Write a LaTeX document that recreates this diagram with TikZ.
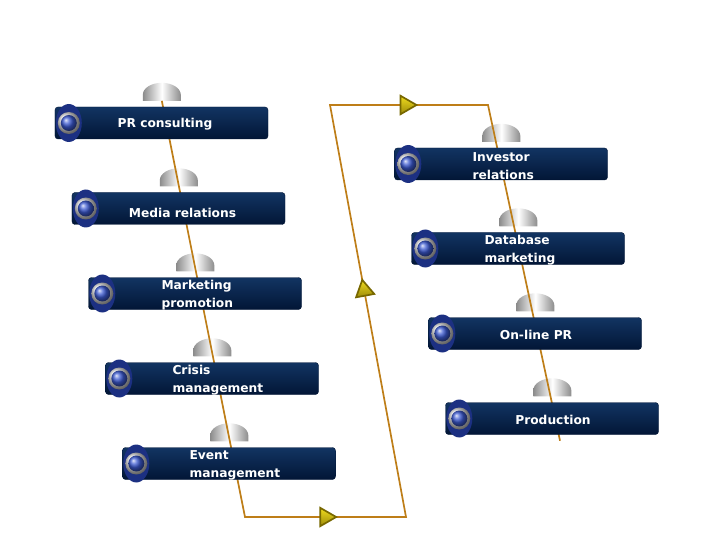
\documentclass[tikz,border=0pt]{standalone}
\usepackage{fontspec}
\setmainfont{DejaVu Sans}
\usetikzlibrary{shapes.geometric,backgrounds}
\definecolor{boxtop}{RGB}{18,52,98}
\definecolor{boxbot}{RGB}{2,22,54}
\definecolor{wirecol}{RGB}{190,126,24}
\definecolor{tipyel}{RGB}{240,220,30}
\definecolor{tipolv}{RGB}{120,104,0}
\definecolor{iconbg}{RGB}{28,48,130}
\definecolor{ballcol}{RGB}{60,90,210}
\tikzset{
  stagebox/.style={draw=boxbot, rounded corners=3bp, minimum width=213bp,
    minimum height=32bp, top color=boxtop, bottom color=boxbot, inner sep=0},
  stagetext/.style={text=white, font=\fontsize{12.3}{18}\selectfont\bfseries,
    align=left, inner sep=0},
  flowtip/.style={isosceles triangle, isosceles triangle apex angle=60,
    minimum size=16bp, inner sep=0, draw=tipolv, top color=tipyel,
    bottom color=tipolv!70!tipyel, sloped, allow upside down},
  wire/.style={draw=wirecol, line width=1.7bp},
  dome/.style={left color=gray!90, right color=gray!90, middle color=white}
}
\begin{document}
\begin{tikzpicture}[x=1bp, y=-1bp]
\useasboundingbox (0,0) rectangle (720,540);
% left column
\node[stagebox] (pr)     at (161.5,123) {};
\node[stagebox] (media)  at (178.5,208.5) {};
\node[stagebox] (mktg)   at (195,293.5) {};
\node[stagebox] (crisis) at (212,378.5) {};
\node[stagebox] (event)  at (229,463.5) {};
% right column
\node[stagebox] (investor) at (501,164) {};
\node[stagebox] (dbm)      at (518,248.5) {};
\node[stagebox] (online)   at (535,333.5) {};
\node[stagebox] (prod)     at (552,418.5) {};

\foreach \s in {pr,media,mktg,crisis,event,investor,dbm,online,prod}{
  \fill[iconbg] ([xshift=14bp]\s.west) ellipse[x radius=13bp, y radius=19bp];
  \shade[ball color=gray!20] ([xshift=14bp]\s.west) circle (11bp);
  \shade[ball color=ballcol] ([xshift=14bp]\s.west) circle (8bp);
}

\node[stagetext] (prt)     at ([xshift=3.5bp,yshift=-1bp]pr.center) {PR consulting};
\node[stagetext] (mediat)  at ([xshift=4bp,yshift=-4bp]media.center) {Media relations};
\node[stagetext, anchor=west] (mktgt)   at ([xshift=73bp,yshift=-2bp]mktg.west) {Marketing\\promotion};
\node[stagetext, anchor=west] (crisist) at ([xshift=67bp,yshift=-2bp]crisis.west) {Crisis\\management};
\node[stagetext, anchor=west] (eventt)  at ([xshift=67bp,yshift=-2bp]event.west) {Event\\management};
\node[stagetext, anchor=west] (investort) at ([xshift=78bp,yshift=-2bp]investor.west) {Investor\\relations};
\node[stagetext, anchor=west] (dbmt)    at ([xshift=73bp,yshift=-2bp]dbm.west) {Database\\marketing};
\node[stagetext] (onlinet) at ([xshift=1bp,yshift=-1bp]online.center) {On-line PR};
\node[stagetext] (prodt)   at ([xshift=1bp,yshift=-1bp]prod.center) {Production};

\begin{pgfonlayer}{background}
\foreach \s in {pr,media,mktg,crisis,event,investor,dbm,online,prod}{
  \shade[dome] ([xshift=88bp,yshift=6bp]\s.north west) -- ++(0,-6)
    arc[start angle=180, end angle=0, x radius=19bp, y radius=12bp] -- ++(0,6) -- cycle;
}
\coordinate (p0) at ([xshift=107bp,yshift=6bp]pr.north west);
\coordinate (c1) at (245,517);
\coordinate (c2) at (406,517);
\coordinate (c3) at (330,105);
\coordinate (c4) at (488,105);
\coordinate (p1) at ([xshift=8bp,yshift=-6bp]prod.south);
\draw[wire] (p0) -- (c1) -- node[flowtip]{} (c2)
  -- node[flowtip, pos=.55]{} (c3) -- node[flowtip, pos=.48]{} (c4) -- (p1);
\end{pgfonlayer}
\end{tikzpicture}
\end{document}
